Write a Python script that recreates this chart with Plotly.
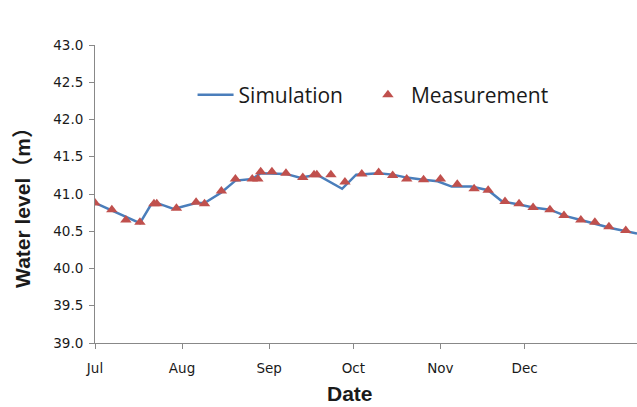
import plotly.graph_objects as go

sim_dates = ["2019-07-01", "2019-07-17", "2019-07-21", "2019-07-23", "2019-07-29",
             "2019-08-06", "2019-08-09", "2019-08-15", "2019-08-20", "2019-08-26",
             "2019-08-29", "2019-09-02", "2019-09-07", "2019-09-12", "2019-09-17",
             "2019-09-19", "2019-09-27", "2019-10-02", "2019-10-10", "2019-10-15",
             "2019-10-20", "2019-10-26", "2019-10-31", "2019-11-05", "2019-11-12",
             "2019-11-18", "2019-11-23", "2019-11-29", "2019-12-04", "2019-12-10",
             "2019-12-16", "2019-12-21", "2019-12-26", "2020-01-01", "2020-01-10"]
sim_values = [40.88, 40.61, 40.86, 40.88, 40.80,
              40.88, 40.88, 41.02, 41.18, 41.20,
              41.28, 41.28, 41.27, 41.22, 41.25,
              41.24, 41.07, 41.26, 41.28, 41.26,
              41.22, 41.19, 41.17, 41.10, 41.10,
              41.05, 40.90, 40.86, 40.82, 40.79,
              40.70, 40.65, 40.60, 40.54, 40.47]

meas_dates = ["2019-07-01", "2019-07-07", "2019-07-12", "2019-07-17", "2019-07-22",
              "2019-07-23", "2019-07-30", "2019-08-06", "2019-08-09", "2019-08-15",
              "2019-08-20", "2019-08-26", "2019-08-28", "2019-08-29", "2019-09-02",
              "2019-09-07", "2019-09-13", "2019-09-17", "2019-09-18", "2019-09-23",
              "2019-09-28", "2019-10-04", "2019-10-10", "2019-10-15", "2019-10-20",
              "2019-10-26", "2019-11-01", "2019-11-07", "2019-11-13", "2019-11-18",
              "2019-11-24", "2019-11-29", "2019-12-04", "2019-12-10", "2019-12-15",
              "2019-12-21", "2019-12-26", "2019-12-31", "2020-01-06"]
meas_values = [40.88, 40.79, 40.65, 40.62, 40.87,
               40.87, 40.81, 40.89, 40.87, 41.04,
               41.20, 41.20, 41.20, 41.30, 41.30,
               41.28, 41.22, 41.26, 41.26, 41.26,
               41.16, 41.27, 41.29, 41.25, 41.20,
               41.19, 41.20, 41.13, 41.07, 41.05,
               40.90, 40.87, 40.82, 40.79, 40.71,
               40.65, 40.62, 40.56, 40.51]

x_tick_dates = ["2019-07-01", "2019-08-01", "2019-09-01", "2019-10-01", "2019-11-01", "2019-12-01"]
x_tick_labels = ["Jul", "Aug", "Sep", "Oct", "Nov", "Dec"]
y_ticks = [39.0, 39.5, 40.0, 40.5, 41.0, 41.5, 42.0, 42.5, 43.0]

fig = go.Figure()
fig.add_trace(go.Scatter(x=sim_dates, y=sim_values, mode="lines", name="Simulation",
                         line=dict(color="#4a7ebb", width=2.5), legend="legend"))
fig.add_trace(go.Scatter(x=meas_dates, y=meas_values, mode="markers", name="Measurement",
                         marker=dict(symbol="triangle-up", size=10, color="#c0504d"),
                         legend="legend2"))

fig.add_annotation(text="<b>Date</b>", xref="paper", yref="paper", x=0.47, y=-0.168,
                   xanchor="center", yanchor="middle", showarrow=False,
                   font=dict(family="Liberation Sans, Arial", size=21, color="#1a1a1a"))
fig.add_annotation(text="<b>Water level（m）</b>", xref="paper", yref="paper",
                   x=-0.135, y=0.473, xanchor="center", yanchor="middle",
                   textangle=-90, showarrow=False,
                   font=dict(family="Liberation Sans, Noto Sans CJK SC", size=21, color="#1a1a1a"))

legend_font = dict(family="Open Sans, Liberation Sans", size=21, color="#1a1a1a")

fig.update_layout(
    width=637, height=407,
    margin=dict(l=95, r=0, t=45, b=64, autoexpand=False),
    paper_bgcolor="white", plot_bgcolor="white",
    showlegend=True,
    legend=dict(orientation="h", x=0.18, y=0.832, xanchor="left", yanchor="middle",
                font=legend_font, bgcolor="rgba(0,0,0,0)", itemwidth=36),
    legend2=dict(orientation="h", x=0.498, y=0.832, xanchor="left", yanchor="middle",
                 font=legend_font, bgcolor="rgba(0,0,0,0)", itemwidth=36),
    xaxis=dict(type="date", range=["2019-07-01", "2020-01-10"],
               tickmode="array", tickvals=x_tick_dates, ticktext=x_tick_labels,
               ticks="outside", ticklen=5, tickcolor="#888888",
               showline=True, linecolor="#888888", linewidth=1, showgrid=False,
               zeroline=False, automargin=False, ticklabelstandoff=8,
               tickfont=dict(family="DejaVu Sans, Verdana", size=13.5, color="#1a1a1a")),
    yaxis=dict(range=[39.0, 43.0], tickmode="array", tickvals=y_ticks,
               ticktext=[f"{v:.1f}" for v in y_ticks],
               ticks="outside", ticklen=5, tickcolor="#888888",
               showline=True, linecolor="#888888", linewidth=1, showgrid=False,
               zeroline=False, automargin=False, ticklabelstandoff=3,
               tickfont=dict(family="DejaVu Sans, Verdana", size=13.5, color="#1a1a1a")),
)

fig.write_html("out.html", config={"displayModeBar": False},
               post_script="document.body.style.margin='0';document.body.style.overflow='hidden';")
